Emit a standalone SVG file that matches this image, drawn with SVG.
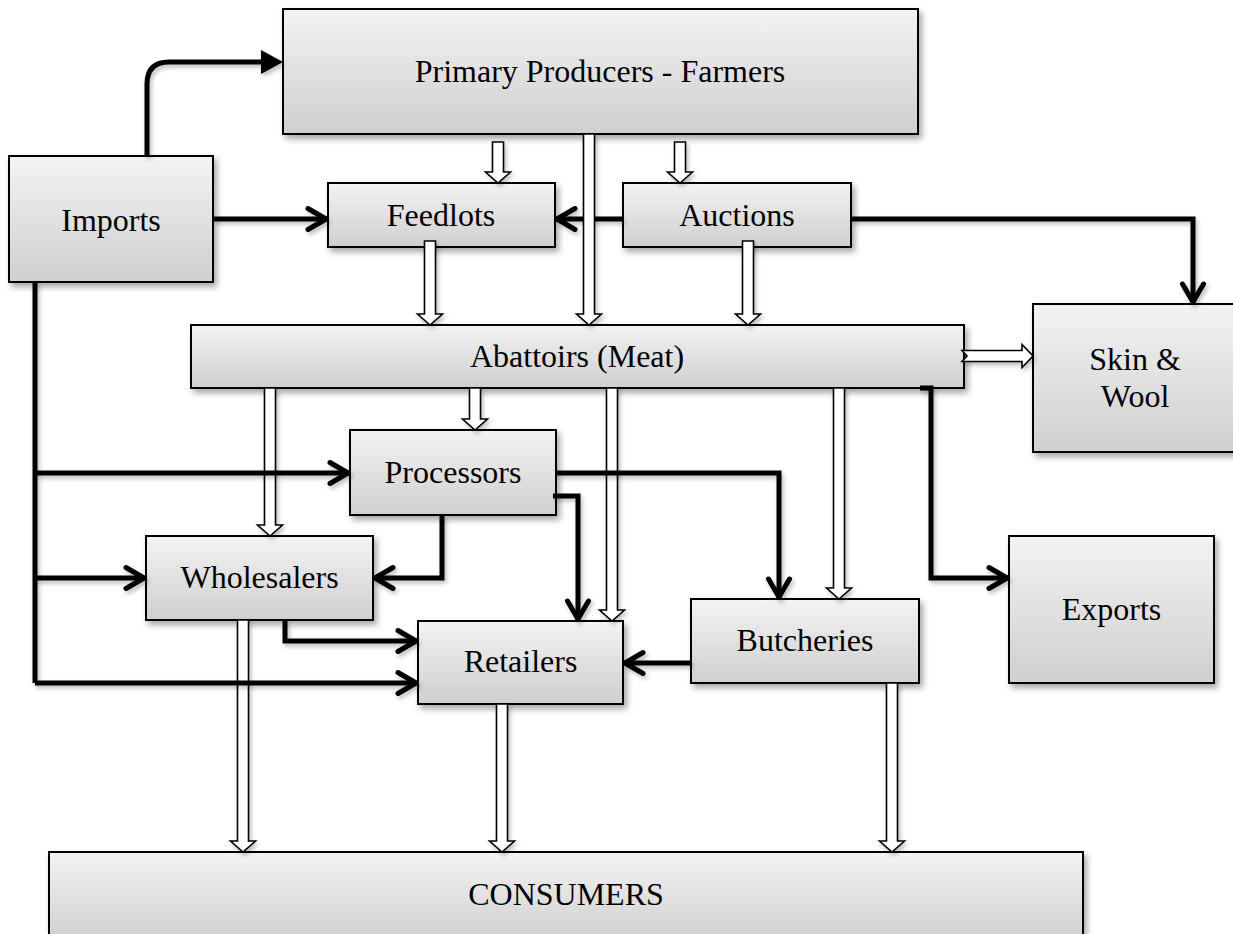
<svg xmlns="http://www.w3.org/2000/svg" width="1233" height="934" viewBox="0 0 1233 934">
<style>
.box{fill:url(#g);stroke:#000;stroke-width:2;filter:url(#sh)}
.t{font-family:"Liberation Serif","Times New Roman",serif;font-size:32px;fill:#000;text-anchor:middle}
.ho{fill:#fff;stroke:#000;stroke-width:1.6;stroke-linejoin:miter;filter:url(#sh2)}
.th{fill:none;stroke:#000;stroke-width:5;stroke-linejoin:miter;filter:url(#sh2)}
.ch{marker-end:url(#chev)}
</style>
<defs>
<linearGradient id="g" x1="0" y1="0" x2="0" y2="1">
<stop offset="0" stop-color="#f3f3f3"/>
<stop offset="1" stop-color="#cfcfcf"/>
</linearGradient>
<filter id="sh" x="-10%" y="-10%" width="130%" height="140%">
<feDropShadow dx="3" dy="4" stdDeviation="3" flood-color="#000" flood-opacity="0.35"/>
</filter>
<filter id="sh2" filterUnits="userSpaceOnUse" x="0" y="0" width="1233" height="934">
<feDropShadow dx="2" dy="3" stdDeviation="2" flood-color="#000" flood-opacity="0.25"/>
</filter>
<marker id="chev" markerUnits="userSpaceOnUse" viewBox="0 0 30 30" markerWidth="30" markerHeight="30" refX="28" refY="15" orient="auto">
<path d="M8,4.5 L26,15 L8,25.5" fill="none" stroke="#000" stroke-width="5" stroke-linecap="round" stroke-linejoin="round"/>
</marker>
<marker id="tri" markerUnits="userSpaceOnUse" viewBox="0 0 30 30" markerWidth="30" markerHeight="30" refX="11" refY="15" orient="auto">
<path d="M2,3 L24,15 L2,27 Z" fill="#000"/>
</marker>
</defs>
<rect width="1233" height="934" fill="#fff"/>

<g id="nodes">
<g id="primary"><rect class="box" x="283" y="9" width="635" height="125"/><text class="t" x="600" y="82">Primary Producers - Farmers</text></g>
<g id="imports"><rect class="box" x="9" y="156" width="204" height="126"/><text class="t" x="111" y="231">Imports</text></g>
<g id="feedlots"><rect class="box" x="328" y="183" width="227" height="64"/><text class="t" x="441" y="226">Feedlots</text></g>
<g id="auctions"><rect class="box" x="623" y="183" width="228" height="64"/><text class="t" x="737" y="226">Auctions</text></g>
<g id="abattoirs"><rect class="box" x="191" y="325" width="773" height="63"/><text class="t" x="577" y="367">Abattoirs (Meat)</text></g>
<g id="skinwool"><rect class="box" x="1033" y="304" width="204" height="148"/><text class="t" x="1135" y="370">Skin &amp;</text><text class="t" x="1135" y="407">Wool</text></g>
<g id="processors"><rect class="box" x="350" y="430" width="206" height="85"/><text class="t" x="453" y="483">Processors</text></g>
<g id="wholesalers"><rect class="box" x="146" y="536" width="227" height="84"/><text class="t" x="259.5" y="588">Wholesalers</text></g>
<g id="retailers"><rect class="box" x="418" y="621" width="205" height="83"/><text class="t" x="520.5" y="672">Retailers</text></g>
<g id="butcheries"><rect class="box" x="691" y="599" width="228" height="84"/><text class="t" x="805" y="651">Butcheries</text></g>
<g id="exports"><rect class="box" x="1009" y="536" width="205" height="147"/><text class="t" x="1111.5" y="620">Exports</text></g>
<g id="consumers"><rect class="box" x="49" y="852" width="1034" height="90"/><text class="t" x="566" y="905">CONSUMERS</text></g>
</g>

<g id="connectors">
<path class="ho" d="M492.5,142 V172 H485.5 L498,183 L510.5,172 H503.5 V142 Z"/>
<path class="ho" d="M674.5,142 V172 H667.5 L680,183 L692.5,172 H685.5 V142 Z"/>
<path class="ho" d="M424.5,241 V314 H417.5 L430,325 L442.5,314 H435.5 V241 Z"/>
<path class="ho" d="M742.5,241 V314 H735.5 L748,325 L760.5,314 H753.5 V241 Z"/>
<path class="ho" d="M264.5,388 V525 H257.5 L270,536 L282.5,525 H275.5 V388 Z"/>
<path class="ho" d="M469.5,388 V419 H462.5 L475,430 L487.5,419 H480.5 V388 Z"/>
<path class="ho" d="M606.5,388 V610 H599.5 L612,621 L624.5,610 H617.5 V388 Z"/>
<path class="ho" d="M833.5,388 V588 H826.5 L839,599 L851.5,588 H844.5 V388 Z"/>
<path class="ho" d="M237.5,620 V841 H230.5 L243,852 L255.5,841 H248.5 V620 Z"/>
<path class="ho" d="M496.5,704 V841 H489.5 L502,852 L514.5,841 H507.5 V704 Z"/>
<path class="ho" d="M886.5,683 V841 H879.5 L892,852 L904.5,841 H897.5 V683 Z"/>
<path class="ho" d="M962,350.5 H1022 V344.5 L1033,356 L1022,367.5 V361.5 H962 L967,356 Z"/>

<path class="th" d="M147,156 V84 Q147,62 169,62 H270" marker-end="url(#tri)"/>
<path class="th ch" d="M213,219 H328"/>
<path class="th ch" d="M623,219 H555"/>
<path class="th ch" d="M851,219 H1193 V304"/>
<path class="th" d="M35,281 V683"/>
<path class="th ch" d="M35,473 H350"/>
<path class="th ch" d="M35,578 H146"/>
<path class="th ch" d="M35,683 H418"/>
<path class="th ch" d="M556,473 H779 V599"/>
<path class="th ch" d="M553,496 H578 V621"/>
<path class="th ch" d="M442,515 V578 H373"/>
<path class="th ch" d="M285,620 V641 H418"/>
<path class="th ch" d="M691,663 H623"/>
<path class="th ch" d="M920,388 H931 V578 H1009"/>

<path class="ho" d="M583.5,134 V314 H576.5 L589,325 L601.5,314 H594.5 V134 Z"/>
</g>
</svg>
